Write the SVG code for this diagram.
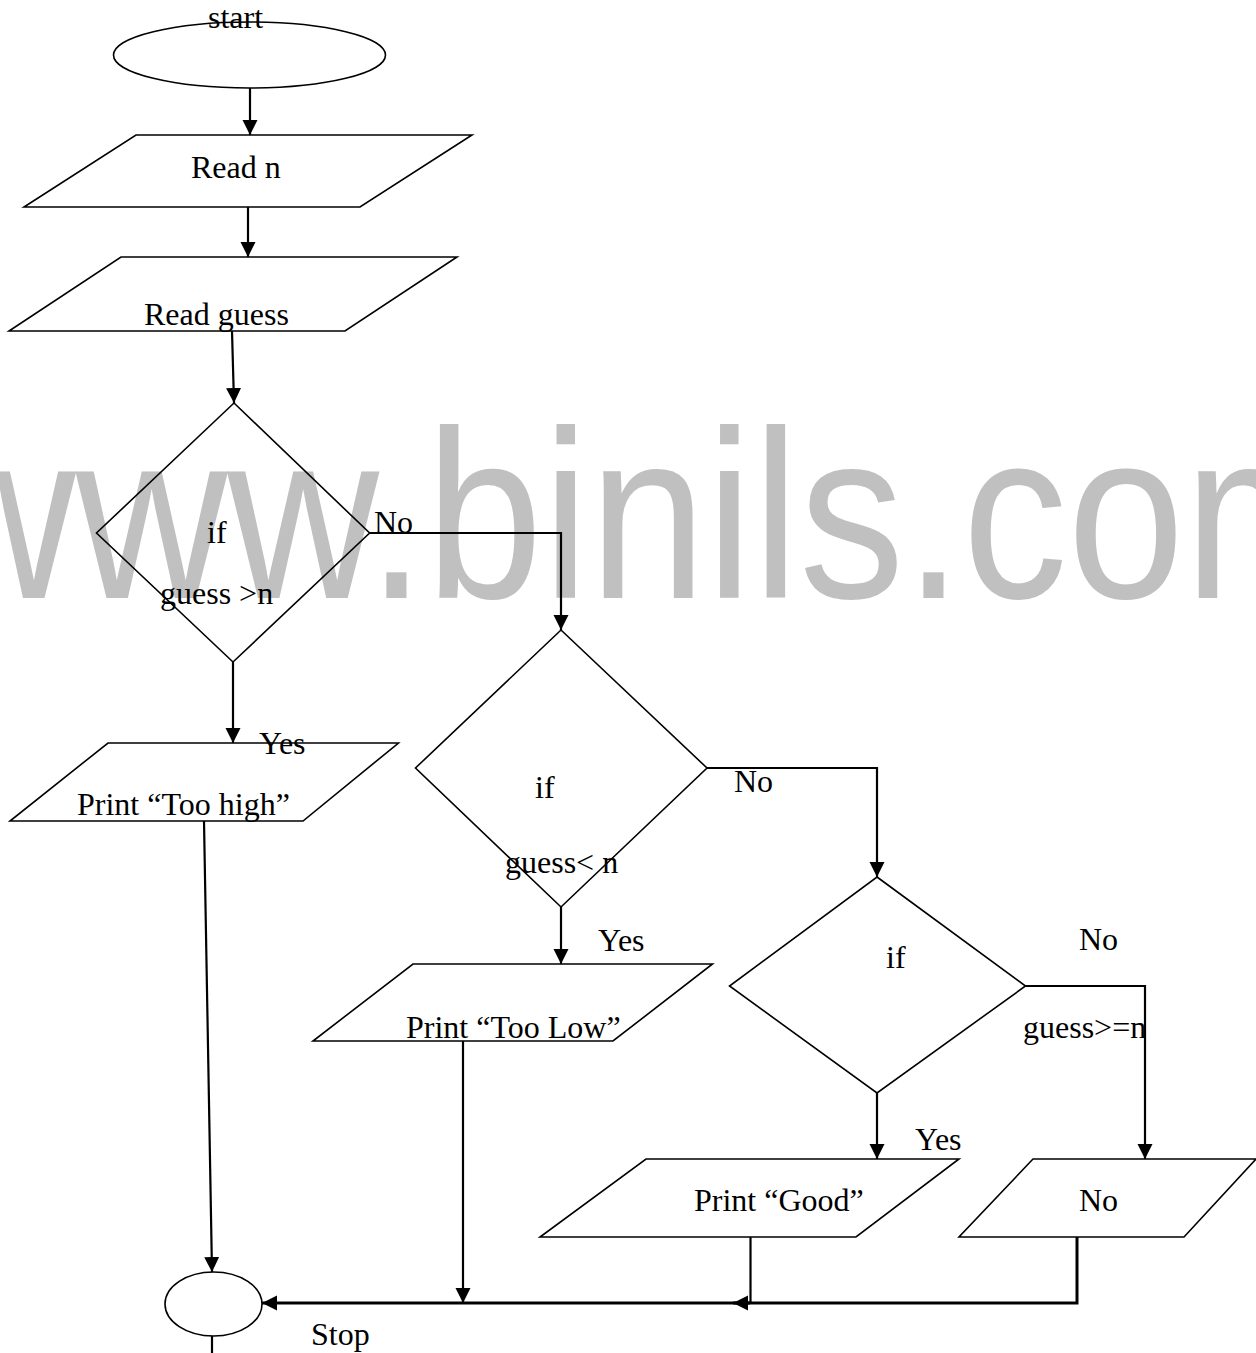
<svg xmlns="http://www.w3.org/2000/svg" width="1256" height="1353" viewBox="0 0 1256 1353">
<style>
.shape{fill:none;stroke:#000;stroke-width:1.6}
.conn{fill:none;stroke:#000;stroke-width:2.2}
.lbl{font-family:"Liberation Serif","Times New Roman",serif;font-size:32px;fill:#000}
.wm{font-family:"Liberation Sans",Arial,sans-serif;font-size:240px;fill:#c0c0c0}
</style>
<defs>
<marker id="arr" markerUnits="userSpaceOnUse" markerWidth="16" markerHeight="16" refX="15" refY="7.5" orient="auto">
<path d="M0,0 L15,7.5 L0,15 z" fill="#000"/>
</marker>
</defs>
<rect width="1256" height="1353" fill="#fff"/>
<g id="watermark">
<text class="wm" transform="translate(-76,598) scale(0.875,1)">www.binils.com</text>
</g>
<g id="connectors">
<path class="conn" d="M250,88 V135" marker-end="url(#arr)"/>
<path class="conn" d="M248,207 V257" marker-end="url(#arr)"/>
<path class="conn" d="M232,331 L234,403" marker-end="url(#arr)"/>
<path class="conn" d="M369.6,533 H561 V630" marker-end="url(#arr)"/>
<path class="conn" d="M233,662 V743" marker-end="url(#arr)"/>
<path class="conn" d="M204,821 L212,1272" marker-end="url(#arr)"/>
<path class="conn" d="M707,768 H877 V877" marker-end="url(#arr)"/>
<path class="conn" d="M561,907 V964" marker-end="url(#arr)"/>
<path class="conn" d="M463,1041 V1303" marker-end="url(#arr)"/>
<path class="conn" d="M1025.5,986 H1145 V1159" marker-end="url(#arr)"/>
<path class="conn" d="M877,1093 V1159" marker-end="url(#arr)"/>
<path class="conn" d="M750.5,1237 V1303"/>
<path class="conn" style="stroke-width:3" d="M1077,1237 V1303 H733" marker-end="url(#arr)"/>
<path class="conn" style="stroke-width:3" d="M750,1303 H262" marker-end="url(#arr)"/>
<path class="conn" d="M212,1336 V1353"/>
<text class="lbl" x="374" y="533">No</text>
<text class="lbl" x="259" y="754">Yes</text>
<text class="lbl" x="734" y="792">No</text>
<text class="lbl" x="598" y="951">Yes</text>
<text class="lbl" x="1079" y="950">No</text>
<text class="lbl" x="915" y="1150">Yes</text>
</g>
<g id="start">
<ellipse class="shape" cx="249.5" cy="55" rx="136" ry="33"/>
<text class="lbl" x="208" y="28">start</text>
</g>
<g id="read-n">
<polygon class="shape" points="136,135 472,135 360,207 24,207"/>
<text class="lbl" x="191" y="178">Read n</text>
</g>
<g id="read-guess">
<polygon class="shape" points="121,257 457,257 345,331 9,331"/>
<text class="lbl" x="144" y="325">Read guess</text>
</g>
<g id="decision-1">
<polygon class="shape" points="234,403 369.6,533 233,662 96.5,533"/>
<text class="lbl" x="207" y="543">if</text>
<text class="lbl" x="160" y="604">guess &gt;n</text>
</g>
<g id="print-too-high">
<polygon class="shape" points="108,743 398.5,743 303,821 10,821"/>
<text class="lbl" x="77" y="815">Print “Too high”</text>
</g>
<g id="decision-2">
<polygon class="shape" points="561,630 707,768 561,907 415.5,768"/>
<text class="lbl" x="535" y="798">if</text>
<text class="lbl" x="505" y="873">guess&lt; n</text>
</g>
<g id="print-too-low">
<polygon class="shape" points="413,964 712.5,964 613,1041 313,1041"/>
<text class="lbl" x="406" y="1038">Print “Too Low”</text>
</g>
<g id="decision-3">
<polygon class="shape" points="877,877 1025.5,986 877,1093 729.5,986"/>
<text class="lbl" x="886" y="968">if</text>
<text class="lbl" x="1023" y="1038">guess&gt;=n</text>
</g>
<g id="print-good">
<polygon class="shape" points="646,1159 959,1159 856,1237 540,1237"/>
<text class="lbl" x="694" y="1211">Print “Good”</text>
</g>
<g id="print-no">
<polygon class="shape" points="1033,1159 1256,1159 1184,1237 959,1237"/>
<text class="lbl" x="1079" y="1211">No</text>
</g>
<g id="stop">
<ellipse class="shape" cx="213.5" cy="1304" rx="48.5" ry="32"/>
<text class="lbl" x="311" y="1345">Stop</text>
</g>
</svg>
